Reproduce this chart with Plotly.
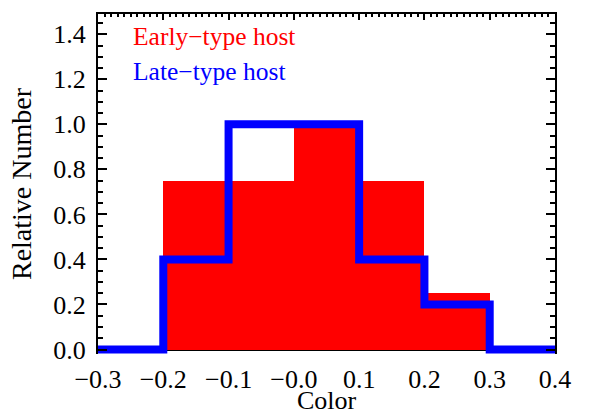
import plotly.graph_objects as go

# Data
bin_centers = [-0.15, -0.05, 0.05, 0.15, 0.25]
early_values = [0.75, 0.75, 1.0, 0.75, 0.25]
late_edges = [-0.3, -0.2, -0.1, 0.0, 0.1, 0.2, 0.3, 0.4]
late_values = [0.0, 0.4, 1.0, 1.0, 0.4, 0.2, 0.0, 0.0]
x_tickvals = [-0.3, -0.2, -0.1, 0.0, 0.1, 0.2, 0.3, 0.4]
x_ticktext = ["\u22120.3", "\u22120.2", "\u22120.1", "\u22120.0", "0.1", "0.2", "0.3", "0.4"]
y_tickvals = [0.0, 0.2, 0.4, 0.6, 0.8, 1.0, 1.2, 1.4]
y_ticktext = ["0.0", "0.2", "0.4", "0.6", "0.8", "1.0", "1.2", "1.4"]

FONT = "Liberation Serif, Times New Roman, serif"
XRANGE = [-0.3, 0.4]

fig = go.Figure()
fig.add_trace(go.Bar(x=bin_centers, y=early_values, width=0.1,
                     marker=dict(color="#ff0000", line=dict(width=0)),
                     showlegend=False, hoverinfo="skip"))
fig.add_trace(go.Scatter(x=late_edges, y=late_values, mode="lines",
                         line=dict(color="#0000ff", width=8, shape="hv"),
                         showlegend=False, hoverinfo="skip"))
# invisible trace to activate top axis
fig.add_trace(go.Scatter(x=[XRANGE[0]], y=[0], xaxis="x2", mode="markers",
                         marker=dict(opacity=0), showlegend=False, hoverinfo="skip"))

fig.update_layout(
    width=589, height=417,
    margin=dict(l=98, r=34, t=14, b=63),
    paper_bgcolor="white", plot_bgcolor="white",
    font=dict(family=FONT, size=26, color="black"),
    bargap=0,
    xaxis=dict(range=XRANGE, tickvals=x_tickvals, ticktext=x_ticktext,
               ticks="", showline=False,
               showgrid=False, zeroline=False, ticklabelstandoff=7,
               tickfont=dict(family=FONT, size=26)),
    xaxis2=dict(range=XRANGE, overlaying="x", side="top", matches=None,
                tickvals=x_tickvals, showticklabels=False,
                ticks="inside", ticklen=6, tickwidth=2, tickcolor="black",
                minor=dict(dtick=0.01, ticks="inside", ticklen=3, tickwidth=1.5, tickcolor="black"),
                showline=True, linewidth=2, linecolor="black",
                showgrid=False, zeroline=False),
    yaxis=dict(range=[-0.02, 1.49], tickvals=y_tickvals, ticktext=y_ticktext,
               ticks="inside", ticklen=9, tickwidth=2, tickcolor="black",
               minor=dict(dtick=0.05, ticks="inside", ticklen=5, tickwidth=1.5, tickcolor="black"),
               showline=True, linewidth=2, linecolor="black", mirror="ticks",
               showgrid=False, zeroline=True, zerolinecolor="black", zerolinewidth=2,
               ticklabelstandoff=5,
               title=dict(text="Relative Number", font=dict(family=FONT, size=28), standoff=13),
               tickfont=dict(family=FONT, size=26)),
    annotations=[
        dict(text="Color", xref="paper", yref="paper", x=0.5, y=-0.1853,
             xanchor="center", yanchor="bottom", showarrow=False,
             font=dict(color="black", size=26, family=FONT)),
        dict(text="Early\u2212type host", xref="paper", yref="paper", x=0.072, y=0.933,
             xanchor="left", yanchor="middle", showarrow=False,
             font=dict(color="#ff0000", size=25.5, family=FONT)),
        dict(text="Late\u2212type host", xref="paper", yref="paper", x=0.072, y=0.83,
             xanchor="left", yanchor="middle", showarrow=False,
             font=dict(color="#0000ff", size=25.5, family=FONT)),
    ],
)

fig.write_html("out.html")
